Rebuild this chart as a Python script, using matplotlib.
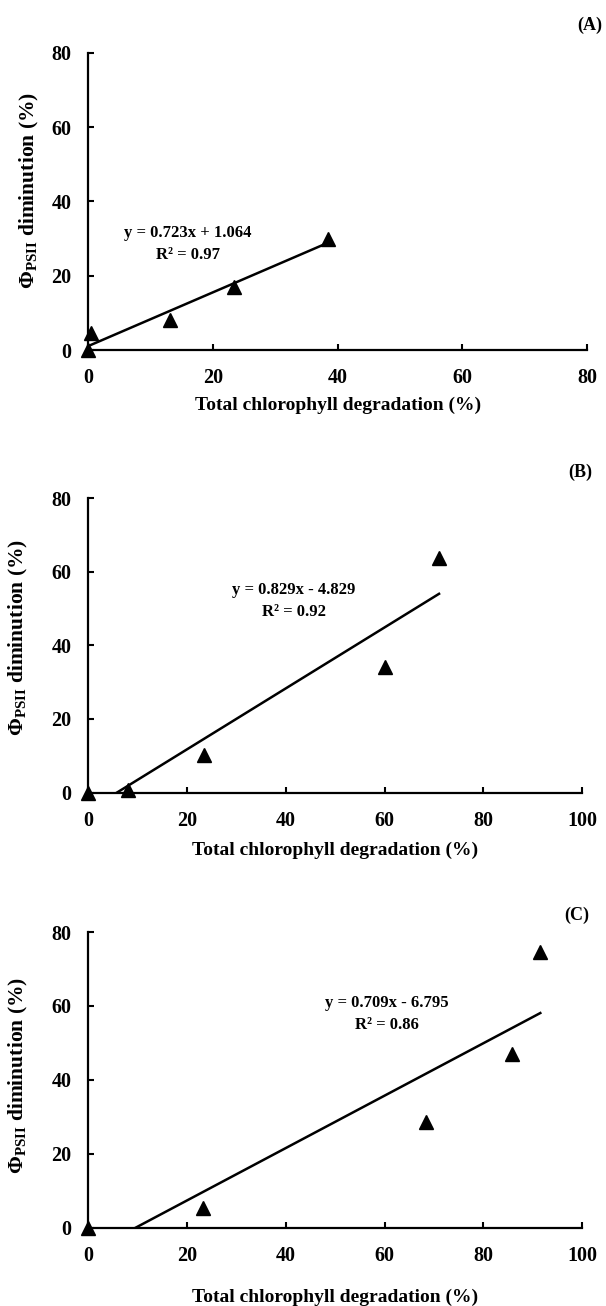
import matplotlib.pyplot as plt

plt.rcParams['font.family'] = 'Liberation Serif'
plt.rcParams['font.weight'] = 'bold'
plt.rcParams['mathtext.fontset'] = 'custom'
plt.rcParams['mathtext.rm'] = 'Liberation Serif:bold'
plt.rcParams['mathtext.bf'] = 'Liberation Serif:bold'
plt.rcParams['mathtext.it'] = 'Liberation Serif:bold'

# chlorophyll degradation (%) vs PhiPSII diminution (%)
a_x = [0, 0.5, 13.1, 23.3, 38.5]
a_y = [0, 4.7, 8.1, 17.0, 29.9]
a_fit = (0.723, 1.064)
a_r2 = 0.97

b_x = [0, 8.0, 23.5, 60.0, 71.0]
b_y = [0, 0.8, 10.2, 34.2, 63.8]
b_fit = (0.829, -4.829)
b_r2 = 0.92

c_x = [0, 23.3, 68.3, 85.7, 91.5]
c_y = [0, 5.4, 28.6, 47.0, 74.6]
c_fit = (0.709, -6.795)
c_r2 = 0.86

xlabel = "Total chlorophyll degradation (%)"
ylabel = r"$\mathbf{\Phi_{PSII}}$ diminution (%)"

W, H = 606, 1306
fig = plt.figure(figsize=(W / 100, H / 100), dpi=100)


def px(x, y):
    return x / W, 1 - y / H


def panel(box, xs, ys, fit, r2, xmax, tag, tag_xy, eq_xy, xlab_y, ylab_x, ylab_y):
    left, top, right, bottom = box
    ax = fig.add_axes([left / W, 1 - bottom / H, (right - left) / W, (bottom - top) / H])
    ax.plot(xs, ys, linestyle='none', marker='^', color='black', markersize=9.5,
            clip_on=False, zorder=4)
    slope, icpt = fit
    lx = [0, max(xs)]
    ax.plot(lx, [slope * v + icpt for v in lx], color='black', lw=1.8)
    ax.set_xlim(0, xmax)
    ax.set_ylim(0, 80)
    ax.set_xticks(range(0, xmax + 1, 20))
    ax.set_yticks(range(0, 81, 20))
    for s in ['top', 'right']:
        ax.spines[s].set_visible(False)
    for s in ['left', 'bottom']:
        ax.spines[s].set_linewidth(1.6)
    ax.tick_params(direction='in', length=4.5, width=1.5, labelsize=14.5)
    ax.tick_params(axis='y', pad=12)
    ax.tick_params(axis='x', pad=13)

    ax.set_xlabel(xlabel, fontsize=14, fontweight='bold', va='center')
    ax.xaxis.set_label_coords(0.5, (bottom - xlab_y) / (bottom - top))
    ax.set_ylabel(ylabel, fontsize=15.5, fontweight='bold', va='center')
    ax.yaxis.set_label_coords((ylab_x - left) / (right - left), (bottom - ylab_y) / (bottom - top))

    sign = '+' if icpt >= 0 else '-'
    eq = f"y = {slope:.3f}x {sign} {abs(icpt):.3f}"
    fig.text(*px(eq_xy[0], eq_xy[1]), eq, ha='center', va='center', fontsize=12)
    fig.text(*px(eq_xy[0], eq_xy[1] + 22), f"R² = {r2:.2f}", ha='center', va='center',
             fontsize=12)
    fig.text(*px(*tag_xy), tag, ha='center', va='center', fontsize=13)
    return ax


panel((88.3, 52.7, 587, 350), a_x, a_y, a_fit, a_r2, 80, "(A)", (590, 25),
      (187.5, 233), 405, 29, 190)
panel((88.3, 498.3, 582.3, 792.5), b_x, b_y, b_fit, b_r2, 100, "(B)", (580, 472),
      (294, 590), 850, 18, 637)
panel((88.3, 932, 582.3, 1227.7), c_x, c_y, c_fit, c_r2, 100, "(C)", (577, 915),
      (387, 1003), 1297, 18, 1075)

fig.savefig("out.png", dpi=100)
